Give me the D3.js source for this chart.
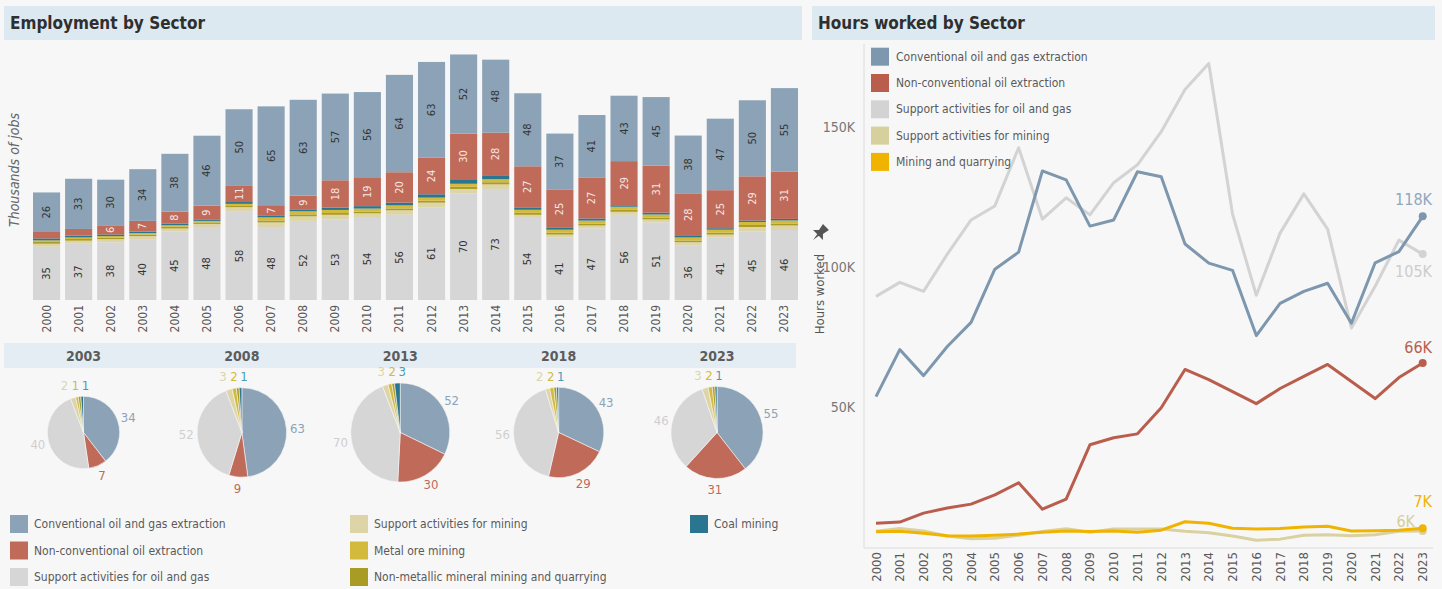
<!DOCTYPE html>
<html>
<head>
<meta charset="utf-8">
<script src="https://cdn.jsdelivr.net/npm/d3@7"></script>
<style>
    body { margin: 0; background: #f7f7f7; }
    text { font-family: 'DejaVu Sans Condensed', 'Liberation Sans Narrow', sans-serif; }
</style>
</head>
<body>
<svg id="chart" width="1442" height="589"></svg>
<script>
// ---- data (thousands of jobs) ----
var years = [2000, 2001, 2002, 2003, 2004, 2005, 2006, 2007, 2008, 2009, 2010, 2011,
    2012, 2013, 2014, 2015, 2016, 2017, 2018, 2019, 2020, 2021, 2022, 2023];

var empConv = [26, 33, 30, 34, 38, 46, 50, 65, 63, 57, 56, 64, 63, 52, 48, 48, 37, 41, 43, 45, 38, 47, 50, 55];
var empNonConv = [4.2, 4.4, 6, 7, 8, 9, 11, 7, 9, 18, 19, 20, 24, 30, 28, 27, 25, 27, 29, 31, 28, 25, 29, 31];
var empSupOG = [35, 37, 38, 40, 45, 48, 58, 48, 52, 53, 54, 56, 61, 70, 73, 54, 41, 47, 56, 51, 36, 41, 45, 46];
var empSupMin = [2, 2, 2, 2, 2, 2, 3, 3, 3, 3, 3, 3, 3, 3, 3, 2, 2, 2, 2, 2, 2, 2, 3, 3];
var empMetal = [1, 1, 1, 1, 1, 1, 1, 2, 2, 2, 2, 2, 2, 2, 2, 2, 2, 2, 2, 2, 2, 2, 2, 2];
var empNonMetal = [1.2, 1.1, 1.0, 1.0, 1.1, 1.0, 1.2, 1.3, 1.3, 1.2, 1.1, 1.2, 1.3, 1.4, 1.4, 1.3, 1.2, 1.2, 1.3, 1.2, 1.1, 1.2, 1.3, 1.3];
var empCoal = [1.3, 1.2, 1.1, 1.0, 1.0, 1.0, 1.2, 1.0, 1.3, 1.5, 1.6, 1.8, 2.2, 3.0, 2.6, 1.6, 1.2, 1.4, 1.0, 1.2, 1.0, 1.0, 1.0, 1.0];

var pieYears = [2003, 2008, 2013, 2018, 2023];

// hours worked (thousands)
var hrsConv = [53.6, 70.4, 61.1, 71.5, 80.1, 99.1, 105.2, 134.2, 131, 114.5, 116.7, 133.9, 132.1, 108.1, 101.3, 98.7, 75.4, 86.9, 91.2, 94.1, 79.8, 101.4, 105.4, 118];
var hrsNonConv = [8.4, 8.8, 12, 13.8, 15.2, 18.5, 22.8, 13.4, 17, 36.4, 38.9, 40.3, 49.6, 63.3, 59.7, 55.4, 51.1, 56.5, 60.8, 65.1, 59, 52.9, 60.4, 65.6];
var hrsSupOG = [89.4, 94.4, 91.2, 104.5, 116.7, 121.7, 142.5, 117, 124.6, 118.5, 130, 136.4, 148.2, 163.3, 172.6, 118.8, 89.8, 112, 126, 113.4, 78.1, 93, 109.5, 104.5];
var hrsSupMin = [5.5, 6.5, 5.6, 3.8, 2.8, 3.0, 4.1, 5.4, 6.4, 5.2, 6.3, 6.3, 6.3, 5.5, 5.0, 3.8, 2.3, 2.7, 4.1, 4.3, 3.9, 4.3, 5.5, 5.6];
var hrsMining = [5.3, 5.5, 4.8, 3.9, 3.8, 4.1, 4.5, 5.2, 5.6, 5.4, 5.6, 5.2, 5.9, 8.9, 8.4, 6.6, 6.3, 6.5, 7.0, 7.3, 5.6, 5.7, 5.9, 6.6];

var hourTicks = [50, 100, 150];

// ---- styles ----
var colors = {
    conv: "#8ca3b7", nonConv: "#c06a5a", supOG: "#d6d6d6", supMin: "#ddd5a8",
    metal: "#d3b93c", nonMetal: "#a99c25", coal: "#2a7590", mining: "#f0b400"
};
var names = {
    conv: "Conventional oil and gas extraction",
    nonConv: "Non-conventional oil extraction",
    supOG: "Support activities for oil and gas",
    supMin: "Support activities for mining",
    metal: "Metal ore mining",
    nonMetal: "Non-metallic mineral mining and quarrying",
    coal: "Coal mining",
    mining: "Mining and quarrying"
};
var textGray = "#5a5a5a";

var svg = d3.select("#chart");
svg.append("rect").attr("width", 1442).attr("height", 589).attr("fill", "#f7f7f7");

// title bars
function titleBar(x, w, label) {
    svg.append("rect").attr("x", x).attr("y", 6).attr("width", w).attr("height", 34).attr("fill", "#dde9f0");
    svg.append("text").attr("x", x + 6).attr("y", 29)
        .attr("font-size", 17).attr("font-weight", "bold").attr("fill", "#2f2f2f")
        .text(label);
}
titleBar(4, 798, "Employment by Sector");
titleBar(812, 623, "Hours worked by Sector");

// ================= stacked bars =================
var rows = years.map(function (yr, i) {
    return {
        year: yr, conv: empConv[i], nonConv: empNonConv[i], supOG: empSupOG[i], supMin: empSupMin[i],
        metal: empMetal[i], nonMetal: empNonMetal[i], coal: empCoal[i]
    };
});
var stackKeys = ["supOG", "supMin", "nonMetal", "metal", "coal", "nonConv", "conv"];
var series = d3.stack().keys(stackKeys)(rows);

var xBar = d3.scaleBand().domain(years).range([33, 798]).paddingInner(0.155).paddingOuter(0);
var yBar = d3.scaleLinear().domain([0, 165]).range([300, 49]);

var barG = svg.append("g");
series.forEach(function (s) {
    barG.selectAll(null).data(s).enter().append("rect")
        .attr("x", function (d) { return xBar(d.data.year); })
        .attr("y", function (d) { return yBar(d[1]); })
        .attr("width", xBar.bandwidth())
        .attr("height", function (d) { return yBar(d[0]) - yBar(d[1]); })
        .attr("fill", colors[s.key]);

    // only the three big sectors carry value labels
    if (s.key == "conv" || s.key == "nonConv" || s.key == "supOG") {
        barG.selectAll(null).data(s.filter(function (d) { return yBar(d[0]) - yBar(d[1]) >= 9; }))
            .enter().append("text")
            .attr("transform", function (d) {
                var cx = xBar(d.data.year) + xBar.bandwidth() / 2;
                var cy = (yBar(d[0]) + yBar(d[1])) / 2;
                return "translate(" + cx + "," + cy + ") rotate(-90)";
            })
            .attr("text-anchor", "middle").attr("dominant-baseline", "central")
            .attr("font-size", 11)
            .attr("fill", s.key == "nonConv" ? "#f6e6e2" : "#333")
            .text(function (d) { return Math.round(d[1] - d[0]); });
    }
});

// year labels under bars
barG.selectAll(null).data(years).enter().append("text")
    .attr("transform", function (d) { return "translate(" + (xBar(d) + xBar.bandwidth() / 2) + ",305) rotate(-90)"; })
    .attr("text-anchor", "end").attr("dominant-baseline", "central")
    .attr("font-size", 12).attr("fill", textGray)
    .text(function (d) { return d; });

svg.append("text")
    .attr("transform", "translate(14,170) rotate(-90)")
    .attr("text-anchor", "middle").attr("dominant-baseline", "central")
    .attr("font-size", 14).attr("font-style", "italic").attr("fill", "#666")
    .text("Thousands of jobs");

// ================= pies =================
svg.append("rect").attr("x", 4).attr("y", 343).attr("width", 792).attr("height", 25).attr("fill", "#e3edf3");

var pieKeys = ["conv", "nonConv", "supOG", "supMin", "metal", "nonMetal", "coal"];
var smallKeys = ["supMin", "metal", "coal"]; // labels lined up above the pie
var xPie = d3.scalePoint().domain(pieYears).range([83.5, 717]);
var rPie = d3.scaleSqrt().domain([0, 161]).range([0, 49.5]);
var pieCY = 432.5;
var pie = d3.pie().sort(null).value(function (d) { return d.value; });

pieYears.forEach(function (yr) {
    var i = years.indexOf(yr);
    var row = rows[i];
    var data = pieKeys.map(function (k) { return { key: k, value: row[k] }; });
    var total = d3.sum(data, function (d) { return d.value; });
    var r = rPie(total);
    var cx = xPie(yr);

    svg.append("text").attr("x", cx).attr("y", 356)
        .attr("text-anchor", "middle").attr("dominant-baseline", "central")
        .attr("font-size", 14).attr("font-weight", "bold").attr("fill", "#5c5c5c")
        .text(yr);

    var g = svg.append("g").attr("transform", "translate(" + cx + "," + pieCY + ")");
    var arcs = pie(data);
    g.selectAll("path").data(arcs).enter().append("path")
        .attr("d", d3.arc().innerRadius(0).outerRadius(r))
        .attr("fill", function (d) { return colors[d.data.key]; })
        .attr("stroke", "#f7f7f7").attr("stroke-width", 0.6);

    var labelArc = d3.arc().innerRadius(r + 11).outerRadius(r + 11);
    g.selectAll(".big").data(arcs.filter(function (d) { return d.data.key == "conv" || d.data.key == "nonConv" || d.data.key == "supOG"; }))
        .enter().append("text")
        .attr("transform", function (d) { return "translate(" + labelArc.centroid(d) + ")"; })
        .attr("text-anchor", "middle").attr("dominant-baseline", "central")
        .attr("font-size", 13)
        .attr("fill", function (d) { return d.data.key == "supOG" ? "#cfcfcf" : colors[d.data.key]; })
        .text(function (d) { return Math.round(d.data.value); });

    var offs = [-19, -8, 2];
    g.selectAll(".small").data(arcs.filter(function (d) { return smallKeys.indexOf(d.data.key) >= 0; }))
        .enter().append("text")
        .attr("x", function (d, j) { return offs[j]; })
        .attr("y", -r - 11)
        .attr("text-anchor", "middle").attr("dominant-baseline", "central")
        .attr("font-size", 13)
        .attr("fill", function (d) { return d.data.key == "coal" ? "#4a9bb8" : colors[d.data.key]; })
        .text(function (d) { return Math.round(d.data.value); });
});

// legend for employment
var legCols = [
    { x: 10, keys: ["conv", "nonConv", "supOG"] },
    { x: 350, keys: ["supMin", "metal", "nonMetal"] },
    { x: 690, keys: ["coal"] }
];
legCols.forEach(function (col) {
    col.keys.forEach(function (k, j) {
        var cy = 524 + j * 26.5;
        svg.append("rect").attr("x", col.x).attr("y", cy - 9).attr("width", 18).attr("height", 18).attr("fill", colors[k]);
        svg.append("text").attr("x", col.x + 24).attr("y", cy)
            .attr("dominant-baseline", "central").attr("font-size", 12).attr("fill", textGray)
            .text(names[k]);
    });
});

// ================= hours worked lines =================
var xLine = d3.scalePoint().domain(years).range([876, 1422.7]);
var yLine = d3.scaleLinear().domain([0, 180]).range([546.7, 42.7]);

var lineSeries = [
    { key: "supOG", values: hrsSupOG, color: "#d3d3d3", label: "#cdcdcd", dy: 17, right: 1432 },
    { key: "conv", values: hrsConv, color: "#7d97ae", label: "#8ea8c0", dy: -17, right: 1432 },
    { key: "nonConv", values: hrsNonConv, color: "#b95d4d", label: "#b95d4d", dy: -16, right: 1432 },
    { key: "supMin", values: hrsSupMin, color: "#d9d1a0", label: "#d6ce9c", dy: -10, right: 1415 },
    { key: "mining", values: hrsMining, color: "#f0b400", label: "#f0b400", dy: -27, right: 1432 }
];

svg.append("line").attr("x1", 864).attr("x2", 864).attr("y1", 44).attr("y2", 548)
    .attr("stroke", "#e4e4e4").attr("stroke-width", 1.5);
svg.append("line").attr("x1", 864).attr("x2", 1433).attr("y1", 548).attr("y2", 548)
    .attr("stroke", "#e4e4e4").attr("stroke-width", 1.5);

svg.selectAll(".ytick").data(hourTicks).enter().append("text")
    .attr("x", 855).attr("y", function (d) { return yLine(d); })
    .attr("text-anchor", "end").attr("dominant-baseline", "central")
    .attr("font-size", 14).attr("fill", "#777")
    .text(function (d) { return d + "K"; });

svg.selectAll(".xtick").data(years).enter().append("text")
    .attr("transform", function (d) { return "translate(" + xLine(d) + ",552) rotate(-90)"; })
    .attr("text-anchor", "end").attr("dominant-baseline", "central")
    .attr("font-size", 13).attr("fill", textGray)
    .text(function (d) { return d; });

svg.append("text")
    .attr("transform", "translate(819,294) rotate(-90)")
    .attr("text-anchor", "middle").attr("dominant-baseline", "central")
    .attr("font-size", 13).attr("fill", "#555")
    .text("Hours worked");
// pin icon
svg.append("path")
    .attr("transform", "translate(819,234) rotate(45) scale(1.4)")
    .attr("d", "M-3,-7 L3,-7 L2,-2 L5,1 L-5,1 L-2,-2 Z M-0.8,1 L0.8,1 L0,6 Z")
    .attr("fill", "#555");

var line = d3.line()
    .x(function (d, i) { return xLine(years[i]); })
    .y(function (d) { return yLine(d); });

lineSeries.forEach(function (s) {
    svg.append("path").datum(s.values)
        .attr("d", line)
        .attr("fill", "none").attr("stroke", s.color).attr("stroke-width", 3)
        .attr("stroke-linejoin", "round");
    var last = s.values[s.values.length - 1];
    svg.append("circle").attr("cx", xLine(2023)).attr("cy", yLine(last)).attr("r", 4).attr("fill", s.color);
    svg.append("text").attr("x", s.right).attr("y", yLine(last) + s.dy)
        .attr("text-anchor", "end").attr("dominant-baseline", "central")
        .attr("font-size", 16).attr("fill", s.label)
        .text(Math.round(last) + "K");
});

// legend for hours
var hrsLegend = ["conv", "nonConv", "supOG", "supMin", "mining"];
var hrsLegColors = { conv: "#7d97ae", nonConv: "#b95d4d", supOG: "#d3d3d3", supMin: "#d6cf9e", mining: "#f0b400" };
hrsLegend.forEach(function (k, j) {
    var cy = 56.7 + j * 26.3;
    svg.append("rect").attr("x", 871).attr("y", cy - 9).attr("width", 18).attr("height", 18).attr("fill", hrsLegColors[k]);
    svg.append("text").attr("x", 896).attr("y", cy)
        .attr("dominant-baseline", "central").attr("font-size", 12).attr("fill", textGray)
        .text(names[k]);
});
</script>
</body>
</html>
